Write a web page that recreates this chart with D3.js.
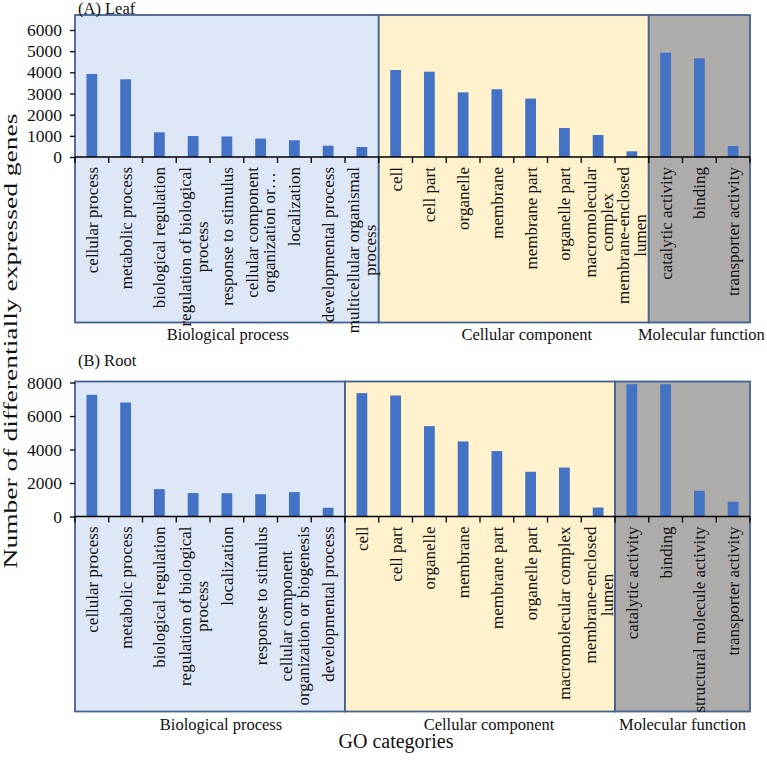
<!DOCTYPE html>
<html>
<head>
<meta charset="utf-8">
<script src="https://cdn.jsdelivr.net/npm/d3@7/dist/d3.min.js"></script>
<style>
  html, body { margin: 0; padding: 0; background: #ffffff; }
  svg, svg text { font-family: 'Liberation Serif', 'Times New Roman', Times, serif; }
</style>
</head>
<body>
<svg id="chart" width="767" height="762"></svg>
<script>
// ---------------- DATA ----------------
const groupNames = ["Biological process", "Cellular component", "Molecular function"];

// (A) Leaf
const leafLabels = [
  "cellular process", "metabolic process", "biological regulation",
  "regulation of biological\nprocess", "response to stimulus",
  "cellular component\norganization or\u2026", "localization",
  "developmental process", "multicellular organismal\nprocess",
  "cell", "cell part", "organelle", "membrane", "membrane part",
  "organelle part", "macromolecular\ncomplex", "membrane-enclosed\nlumen",
  "catalytic activity", "binding", "transporter activity"
];
const leafValues = [
  3920, 3670, 1165, 990, 970, 870, 790, 535, 470,
  4110, 4030, 3055, 3200, 2760, 1370, 1040, 270,
  4930, 4660, 520
];
const leafGroupSizes = [9, 8, 3];
const leafTicks = [0, 1000, 2000, 3000, 4000, 5000, 6000];

// (B) Root
const rootLabels = [
  "cellular process", "metabolic process", "biological regulation",
  "regulation of biological\nprocess", "localization", "response to stimulus",
  "cellular component\norganization or biogenesis", "developmental process",
  "cell", "cell part", "organelle", "membrane", "membrane part",
  "organelle part", "macromolecular complex", "membrane-enclosed\nlumen",
  "catalytic activity", "binding", "structural molecule activity", "transporter activity"
];
const rootValues = [
  7265, 6805, 1635, 1400, 1390, 1335, 1455, 520,
  7365, 7225, 5395, 4480, 3905, 2670, 2925, 535,
  7900, 7900, 1535, 880
];
const rootGroupSizes = [8, 8, 4];
const rootTicks = [0, 2000, 4000, 6000, 8000];

// ---------------- STYLE / LAYOUT ----------------
const FONT = "'Liberation Serif', 'Times New Roman', Times, serif";
const groupFills = ["#dde7f5", "#fff2cc", "#aeabab"];
const borderColor = "#44618f";
const barColor = "#4472c4";
const left = 75, right = 750;

const svg = d3.select("#chart").attr("font-family", FONT);

function drawPanel(cfg) {
  const g = svg.append("g");
  const n = cfg.labels.length;
  const x = d3.scaleBand().domain(d3.range(n)).range([left, right]).paddingInner(0).paddingOuter(0);
  const y = d3.scaleLinear().domain([0, cfg.ticks[cfg.ticks.length - 1]]).range([cfg.base, cfg.tickTop]);
  const bw = x.bandwidth();

  // group boxes
  let start = 0;
  cfg.groupSizes.forEach((size, gi) => {
    const x0 = x(start), x1 = x(start + size - 1) + bw;
    g.append("rect")
      .attr("x", x0).attr("y", cfg.boxTop)
      .attr("width", x1 - x0).attr("height", cfg.boxBottom - cfg.boxTop)
      .attr("fill", groupFills[gi])
      .attr("stroke", borderColor).attr("stroke-width", 1.8);
    g.append("text")
      .attr("x", (x0 + x1) / 2 + cfg.groupOffsets[gi])
      .attr("y", cfg.groupLabelY)
      .attr("text-anchor", "middle")
      .attr("font-family", FONT)
      .attr("font-size", 16.5)
      .attr("fill", "#111")
      .text(groupNames[gi]);
    start += size;
  });

  // bars
  const barW = bw * 0.32;
  g.selectAll("rect.bar").data(cfg.values).enter().append("rect")
    .attr("class", "bar")
    .attr("x", (d, i) => x(i) + (bw - barW) / 2)
    .attr("y", d => y(d))
    .attr("width", barW)
    .attr("height", d => cfg.base - y(d))
    .attr("fill", barColor);

  // y axis
  const yAxis = d3.axisLeft(y).tickValues(cfg.ticks).tickSize(5).tickPadding(8).tickFormat(d3.format("d"));
  const ya = g.append("g").attr("transform", `translate(${left},0)`).call(yAxis)
    .attr("font-family", FONT).attr("font-size", 17.5);
  ya.select(".domain").remove();
  ya.selectAll(".tick line").attr("stroke", "#000").attr("stroke-width", 1.3);
  ya.selectAll(".tick text").attr("font-size", 17.5).attr("fill", "#111").attr("font-family", FONT);

  // x axis line + ticks at band boundaries
  g.append("line").attr("x1", left).attr("x2", right).attr("y1", cfg.base).attr("y2", cfg.base)
    .attr("stroke", "#000").attr("stroke-width", 1.5);
  g.selectAll("line.xt").data(d3.range(n + 1)).enter().append("line")
    .attr("class", "xt")
    .attr("x1", i => left + i * bw).attr("x2", i => left + i * bw)
    .attr("y1", cfg.base).attr("y2", cfg.base + 6)
    .attr("stroke", "#000").attr("stroke-width", 1.3);

  // category labels (rotated, reading upward, top-aligned, lines centered)
  const lh = 17;
  cfg.labels.forEach((lab, i) => {
    const lines = lab.split("\n");
    const cx = x(i) + bw / 2;
    const t = g.append("g").attr("transform", `translate(${cx},${cfg.base + 10}) rotate(-90)`);
    const nodes = lines.map((ln, li) => t.append("text")
      .attr("x", 0)
      .attr("y", (li - (lines.length - 1) / 2) * lh)
      .attr("dy", "0.35em")
      .attr("text-anchor", "end")
      .attr("font-family", FONT)
      .attr("font-size", 17)
      .attr("fill", "#111")
      .text(ln));
    const lens = nodes.map(nd => nd.node().getComputedTextLength());
    const maxL = d3.max(lens);
    nodes.forEach((nd, k) => nd.attr("x", -(maxL - lens[k]) / 2));
  });

  // panel title
  g.append("text").attr("x", 78).attr("y", cfg.titleY)
    .attr("font-family", FONT).attr("font-size", 16.5).attr("fill", "#111").text(cfg.title);
}

drawPanel({
  title: "(A) Leaf", titleY: 14,
  labels: leafLabels, values: leafValues, groupSizes: leafGroupSizes, ticks: leafTicks,
  base: 157, tickTop: 30, boxTop: 15, boxBottom: 322.5, groupLabelY: 340,
  groupOffsets: [1, 13, 2]
});

drawPanel({
  title: "(B) Root", titleY: 366,
  labels: rootLabels, values: rootValues, groupSizes: rootGroupSizes, ticks: rootTicks,
  base: 516.5, tickTop: 382.5, boxTop: 381.5, boxBottom: 711.5, groupLabelY: 730,
  groupOffsets: [11, 9, 0]
});

// axis titles
svg.append("text")
  .attr("transform", "translate(17,341) rotate(-90)")
  .attr("text-anchor", "middle")
  .attr("font-family", FONT)
  .attr("font-size", 18)
  .attr("textLength", 455).attr("lengthAdjust", "spacingAndGlyphs")
  .attr("fill", "#111")
  .text("Number of differentially expressed genes");

svg.append("text")
  .attr("x", 396).attr("y", 748)
  .attr("text-anchor", "middle")
  .attr("font-family", FONT)
  .attr("font-size", 20)
  .attr("fill", "#111")
  .text("GO categories");
</script>
</body>
</html>
